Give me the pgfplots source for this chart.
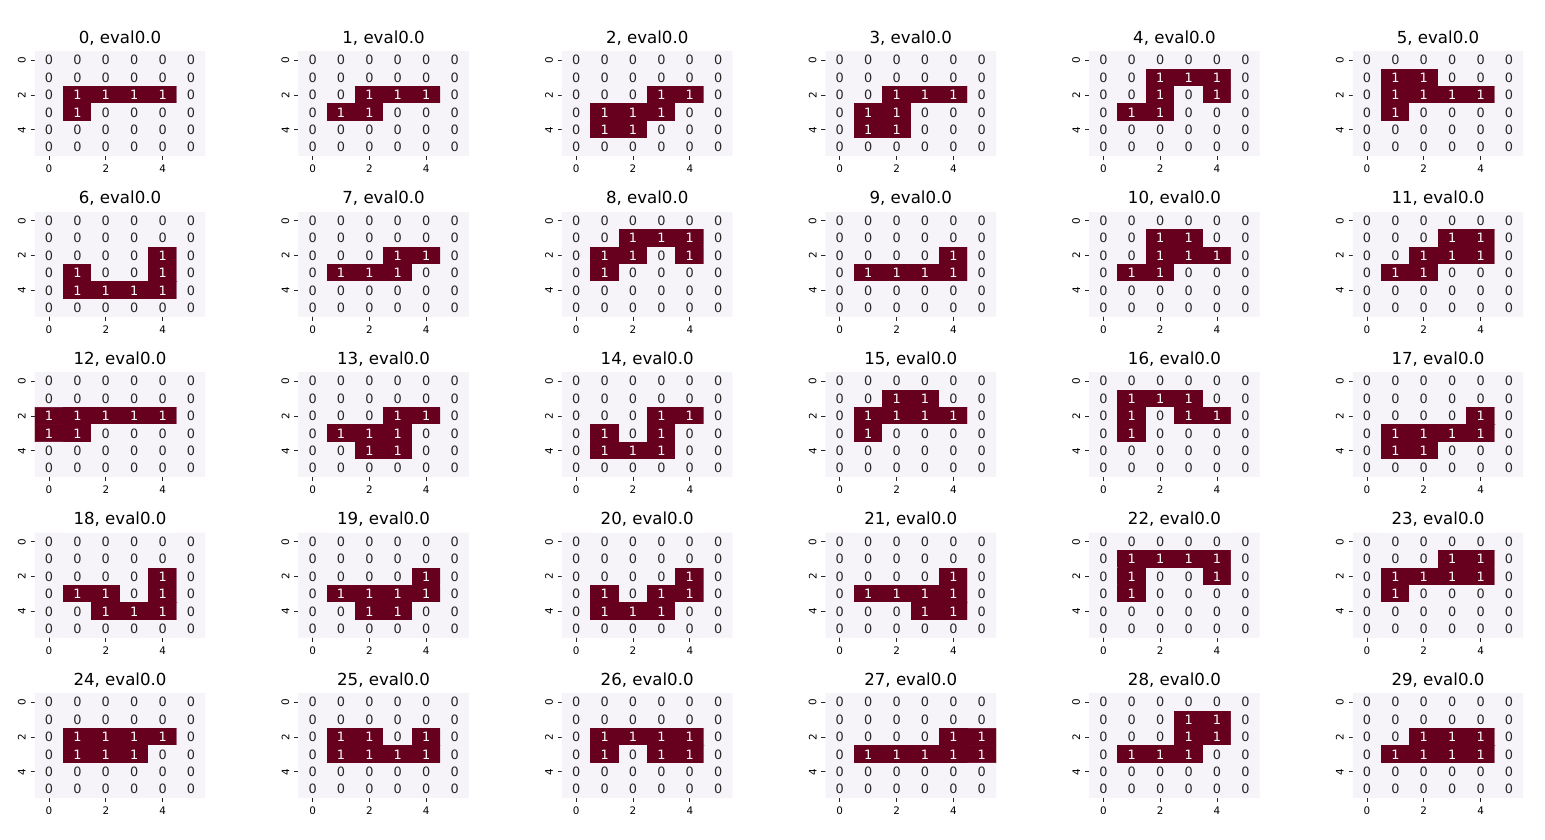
\documentclass[border=0pt]{standalone}
\usepackage{fontspec}
\setmainfont{DejaVu Sans}
\usepackage{pgfplots}
\pgfplotsset{compat=1.18}
\definecolor{c0}{HTML}{F7F4F9}
\definecolor{c1}{HTML}{67001F}
\definecolor{tgray}{HTML}{262626}
\pgfplotsset{hmstyle/.style={
  scale only axis, width=122.7bp, height=75.2bp, anchor=north west,
  xmin=-0.5, xmax=5.5, ymin=-0.5, ymax=5.5, y dir=reverse, enlargelimits=false,
  axis line style={draw=none},
  xtick={0,2,4}, ytick={0,2,4},
  xtick pos=left, ytick pos=left, tick align=outside,
  major tick length=3bp, tick style={draw=tgray, line width=0.6bp},
  /pgf/number format/assume math mode=true,
  tick label style={font=\fontsize{7.5}{8}\selectfont, text=black},
  yticklabel style={rotate=90, anchor=south},
  every axis title/.style={at={(0.5,1)}, anchor=base, yshift=6bp, inner sep=0pt, font=\fontsize{12}{14}\selectfont},
  colormap={purd}{color=(c0) color=(c1)},
  point meta min=0, point meta max=1,
  nodes near coords={\ifdim\pgfplotspointmetatransformed pt>500pt\color{white}\else\color{tgray}\fi\pgfmathprintnumber{\pgfplotspointmeta}},
  nodes near coords align=center,
  every node near coord/.append style={font=\fontsize{9.3}{10}\selectfont, inner sep=0pt, anchor=center},
}}
\newcommand{\hm}[4]{%
\begin{axis}[hmstyle, at={({(34.8+263.6*#1)*0.72bp},{-(51.5+160.5*#2)*0.72bp})}, title={#3}]
\addplot[matrix plot*, mesh/cols=6, point meta=explicit] coordinates {#4};
\end{axis}}
\begin{document}
\begin{tikzpicture}
\path[use as bounding box] (0,0) rectangle (1112.4bp,-604.8bp);
% grid 0
\hm{0}{0}{0, eval0.0}{
(0,0)[0] (1,0)[0] (2,0)[0] (3,0)[0] (4,0)[0] (5,0)[0]
(0,1)[0] (1,1)[0] (2,1)[0] (3,1)[0] (4,1)[0] (5,1)[0]
(0,2)[0] (1,2)[1] (2,2)[1] (3,2)[1] (4,2)[1] (5,2)[0]
(0,3)[0] (1,3)[1] (2,3)[0] (3,3)[0] (4,3)[0] (5,3)[0]
(0,4)[0] (1,4)[0] (2,4)[0] (3,4)[0] (4,4)[0] (5,4)[0]
(0,5)[0] (1,5)[0] (2,5)[0] (3,5)[0] (4,5)[0] (5,5)[0]}
% grid 1
\hm{1}{0}{1, eval0.0}{
(0,0)[0] (1,0)[0] (2,0)[0] (3,0)[0] (4,0)[0] (5,0)[0]
(0,1)[0] (1,1)[0] (2,1)[0] (3,1)[0] (4,1)[0] (5,1)[0]
(0,2)[0] (1,2)[0] (2,2)[1] (3,2)[1] (4,2)[1] (5,2)[0]
(0,3)[0] (1,3)[1] (2,3)[1] (3,3)[0] (4,3)[0] (5,3)[0]
(0,4)[0] (1,4)[0] (2,4)[0] (3,4)[0] (4,4)[0] (5,4)[0]
(0,5)[0] (1,5)[0] (2,5)[0] (3,5)[0] (4,5)[0] (5,5)[0]}
% grid 2
\hm{2}{0}{2, eval0.0}{
(0,0)[0] (1,0)[0] (2,0)[0] (3,0)[0] (4,0)[0] (5,0)[0]
(0,1)[0] (1,1)[0] (2,1)[0] (3,1)[0] (4,1)[0] (5,1)[0]
(0,2)[0] (1,2)[0] (2,2)[0] (3,2)[1] (4,2)[1] (5,2)[0]
(0,3)[0] (1,3)[1] (2,3)[1] (3,3)[1] (4,3)[0] (5,3)[0]
(0,4)[0] (1,4)[1] (2,4)[1] (3,4)[0] (4,4)[0] (5,4)[0]
(0,5)[0] (1,5)[0] (2,5)[0] (3,5)[0] (4,5)[0] (5,5)[0]}
% grid 3
\hm{3}{0}{3, eval0.0}{
(0,0)[0] (1,0)[0] (2,0)[0] (3,0)[0] (4,0)[0] (5,0)[0]
(0,1)[0] (1,1)[0] (2,1)[0] (3,1)[0] (4,1)[0] (5,1)[0]
(0,2)[0] (1,2)[0] (2,2)[1] (3,2)[1] (4,2)[1] (5,2)[0]
(0,3)[0] (1,3)[1] (2,3)[1] (3,3)[0] (4,3)[0] (5,3)[0]
(0,4)[0] (1,4)[1] (2,4)[1] (3,4)[0] (4,4)[0] (5,4)[0]
(0,5)[0] (1,5)[0] (2,5)[0] (3,5)[0] (4,5)[0] (5,5)[0]}
% grid 4
\hm{4}{0}{4, eval0.0}{
(0,0)[0] (1,0)[0] (2,0)[0] (3,0)[0] (4,0)[0] (5,0)[0]
(0,1)[0] (1,1)[0] (2,1)[1] (3,1)[1] (4,1)[1] (5,1)[0]
(0,2)[0] (1,2)[0] (2,2)[1] (3,2)[0] (4,2)[1] (5,2)[0]
(0,3)[0] (1,3)[1] (2,3)[1] (3,3)[0] (4,3)[0] (5,3)[0]
(0,4)[0] (1,4)[0] (2,4)[0] (3,4)[0] (4,4)[0] (5,4)[0]
(0,5)[0] (1,5)[0] (2,5)[0] (3,5)[0] (4,5)[0] (5,5)[0]}
% grid 5
\hm{5}{0}{5, eval0.0}{
(0,0)[0] (1,0)[0] (2,0)[0] (3,0)[0] (4,0)[0] (5,0)[0]
(0,1)[0] (1,1)[1] (2,1)[1] (3,1)[0] (4,1)[0] (5,1)[0]
(0,2)[0] (1,2)[1] (2,2)[1] (3,2)[1] (4,2)[1] (5,2)[0]
(0,3)[0] (1,3)[1] (2,3)[0] (3,3)[0] (4,3)[0] (5,3)[0]
(0,4)[0] (1,4)[0] (2,4)[0] (3,4)[0] (4,4)[0] (5,4)[0]
(0,5)[0] (1,5)[0] (2,5)[0] (3,5)[0] (4,5)[0] (5,5)[0]}
% grid 6
\hm{0}{1}{6, eval0.0}{
(0,0)[0] (1,0)[0] (2,0)[0] (3,0)[0] (4,0)[0] (5,0)[0]
(0,1)[0] (1,1)[0] (2,1)[0] (3,1)[0] (4,1)[0] (5,1)[0]
(0,2)[0] (1,2)[0] (2,2)[0] (3,2)[0] (4,2)[1] (5,2)[0]
(0,3)[0] (1,3)[1] (2,3)[0] (3,3)[0] (4,3)[1] (5,3)[0]
(0,4)[0] (1,4)[1] (2,4)[1] (3,4)[1] (4,4)[1] (5,4)[0]
(0,5)[0] (1,5)[0] (2,5)[0] (3,5)[0] (4,5)[0] (5,5)[0]}
% grid 7
\hm{1}{1}{7, eval0.0}{
(0,0)[0] (1,0)[0] (2,0)[0] (3,0)[0] (4,0)[0] (5,0)[0]
(0,1)[0] (1,1)[0] (2,1)[0] (3,1)[0] (4,1)[0] (5,1)[0]
(0,2)[0] (1,2)[0] (2,2)[0] (3,2)[1] (4,2)[1] (5,2)[0]
(0,3)[0] (1,3)[1] (2,3)[1] (3,3)[1] (4,3)[0] (5,3)[0]
(0,4)[0] (1,4)[0] (2,4)[0] (3,4)[0] (4,4)[0] (5,4)[0]
(0,5)[0] (1,5)[0] (2,5)[0] (3,5)[0] (4,5)[0] (5,5)[0]}
% grid 8
\hm{2}{1}{8, eval0.0}{
(0,0)[0] (1,0)[0] (2,0)[0] (3,0)[0] (4,0)[0] (5,0)[0]
(0,1)[0] (1,1)[0] (2,1)[1] (3,1)[1] (4,1)[1] (5,1)[0]
(0,2)[0] (1,2)[1] (2,2)[1] (3,2)[0] (4,2)[1] (5,2)[0]
(0,3)[0] (1,3)[1] (2,3)[0] (3,3)[0] (4,3)[0] (5,3)[0]
(0,4)[0] (1,4)[0] (2,4)[0] (3,4)[0] (4,4)[0] (5,4)[0]
(0,5)[0] (1,5)[0] (2,5)[0] (3,5)[0] (4,5)[0] (5,5)[0]}
% grid 9
\hm{3}{1}{9, eval0.0}{
(0,0)[0] (1,0)[0] (2,0)[0] (3,0)[0] (4,0)[0] (5,0)[0]
(0,1)[0] (1,1)[0] (2,1)[0] (3,1)[0] (4,1)[0] (5,1)[0]
(0,2)[0] (1,2)[0] (2,2)[0] (3,2)[0] (4,2)[1] (5,2)[0]
(0,3)[0] (1,3)[1] (2,3)[1] (3,3)[1] (4,3)[1] (5,3)[0]
(0,4)[0] (1,4)[0] (2,4)[0] (3,4)[0] (4,4)[0] (5,4)[0]
(0,5)[0] (1,5)[0] (2,5)[0] (3,5)[0] (4,5)[0] (5,5)[0]}
% grid 10
\hm{4}{1}{10, eval0.0}{
(0,0)[0] (1,0)[0] (2,0)[0] (3,0)[0] (4,0)[0] (5,0)[0]
(0,1)[0] (1,1)[0] (2,1)[1] (3,1)[1] (4,1)[0] (5,1)[0]
(0,2)[0] (1,2)[0] (2,2)[1] (3,2)[1] (4,2)[1] (5,2)[0]
(0,3)[0] (1,3)[1] (2,3)[1] (3,3)[0] (4,3)[0] (5,3)[0]
(0,4)[0] (1,4)[0] (2,4)[0] (3,4)[0] (4,4)[0] (5,4)[0]
(0,5)[0] (1,5)[0] (2,5)[0] (3,5)[0] (4,5)[0] (5,5)[0]}
% grid 11
\hm{5}{1}{11, eval0.0}{
(0,0)[0] (1,0)[0] (2,0)[0] (3,0)[0] (4,0)[0] (5,0)[0]
(0,1)[0] (1,1)[0] (2,1)[0] (3,1)[1] (4,1)[1] (5,1)[0]
(0,2)[0] (1,2)[0] (2,2)[1] (3,2)[1] (4,2)[1] (5,2)[0]
(0,3)[0] (1,3)[1] (2,3)[1] (3,3)[0] (4,3)[0] (5,3)[0]
(0,4)[0] (1,4)[0] (2,4)[0] (3,4)[0] (4,4)[0] (5,4)[0]
(0,5)[0] (1,5)[0] (2,5)[0] (3,5)[0] (4,5)[0] (5,5)[0]}
% grid 12
\hm{0}{2}{12, eval0.0}{
(0,0)[0] (1,0)[0] (2,0)[0] (3,0)[0] (4,0)[0] (5,0)[0]
(0,1)[0] (1,1)[0] (2,1)[0] (3,1)[0] (4,1)[0] (5,1)[0]
(0,2)[1] (1,2)[1] (2,2)[1] (3,2)[1] (4,2)[1] (5,2)[0]
(0,3)[1] (1,3)[1] (2,3)[0] (3,3)[0] (4,3)[0] (5,3)[0]
(0,4)[0] (1,4)[0] (2,4)[0] (3,4)[0] (4,4)[0] (5,4)[0]
(0,5)[0] (1,5)[0] (2,5)[0] (3,5)[0] (4,5)[0] (5,5)[0]}
% grid 13
\hm{1}{2}{13, eval0.0}{
(0,0)[0] (1,0)[0] (2,0)[0] (3,0)[0] (4,0)[0] (5,0)[0]
(0,1)[0] (1,1)[0] (2,1)[0] (3,1)[0] (4,1)[0] (5,1)[0]
(0,2)[0] (1,2)[0] (2,2)[0] (3,2)[1] (4,2)[1] (5,2)[0]
(0,3)[0] (1,3)[1] (2,3)[1] (3,3)[1] (4,3)[0] (5,3)[0]
(0,4)[0] (1,4)[0] (2,4)[1] (3,4)[1] (4,4)[0] (5,4)[0]
(0,5)[0] (1,5)[0] (2,5)[0] (3,5)[0] (4,5)[0] (5,5)[0]}
% grid 14
\hm{2}{2}{14, eval0.0}{
(0,0)[0] (1,0)[0] (2,0)[0] (3,0)[0] (4,0)[0] (5,0)[0]
(0,1)[0] (1,1)[0] (2,1)[0] (3,1)[0] (4,1)[0] (5,1)[0]
(0,2)[0] (1,2)[0] (2,2)[0] (3,2)[1] (4,2)[1] (5,2)[0]
(0,3)[0] (1,3)[1] (2,3)[0] (3,3)[1] (4,3)[0] (5,3)[0]
(0,4)[0] (1,4)[1] (2,4)[1] (3,4)[1] (4,4)[0] (5,4)[0]
(0,5)[0] (1,5)[0] (2,5)[0] (3,5)[0] (4,5)[0] (5,5)[0]}
% grid 15
\hm{3}{2}{15, eval0.0}{
(0,0)[0] (1,0)[0] (2,0)[0] (3,0)[0] (4,0)[0] (5,0)[0]
(0,1)[0] (1,1)[0] (2,1)[1] (3,1)[1] (4,1)[0] (5,1)[0]
(0,2)[0] (1,2)[1] (2,2)[1] (3,2)[1] (4,2)[1] (5,2)[0]
(0,3)[0] (1,3)[1] (2,3)[0] (3,3)[0] (4,3)[0] (5,3)[0]
(0,4)[0] (1,4)[0] (2,4)[0] (3,4)[0] (4,4)[0] (5,4)[0]
(0,5)[0] (1,5)[0] (2,5)[0] (3,5)[0] (4,5)[0] (5,5)[0]}
% grid 16
\hm{4}{2}{16, eval0.0}{
(0,0)[0] (1,0)[0] (2,0)[0] (3,0)[0] (4,0)[0] (5,0)[0]
(0,1)[0] (1,1)[1] (2,1)[1] (3,1)[1] (4,1)[0] (5,1)[0]
(0,2)[0] (1,2)[1] (2,2)[0] (3,2)[1] (4,2)[1] (5,2)[0]
(0,3)[0] (1,3)[1] (2,3)[0] (3,3)[0] (4,3)[0] (5,3)[0]
(0,4)[0] (1,4)[0] (2,4)[0] (3,4)[0] (4,4)[0] (5,4)[0]
(0,5)[0] (1,5)[0] (2,5)[0] (3,5)[0] (4,5)[0] (5,5)[0]}
% grid 17
\hm{5}{2}{17, eval0.0}{
(0,0)[0] (1,0)[0] (2,0)[0] (3,0)[0] (4,0)[0] (5,0)[0]
(0,1)[0] (1,1)[0] (2,1)[0] (3,1)[0] (4,1)[0] (5,1)[0]
(0,2)[0] (1,2)[0] (2,2)[0] (3,2)[0] (4,2)[1] (5,2)[0]
(0,3)[0] (1,3)[1] (2,3)[1] (3,3)[1] (4,3)[1] (5,3)[0]
(0,4)[0] (1,4)[1] (2,4)[1] (3,4)[0] (4,4)[0] (5,4)[0]
(0,5)[0] (1,5)[0] (2,5)[0] (3,5)[0] (4,5)[0] (5,5)[0]}
% grid 18
\hm{0}{3}{18, eval0.0}{
(0,0)[0] (1,0)[0] (2,0)[0] (3,0)[0] (4,0)[0] (5,0)[0]
(0,1)[0] (1,1)[0] (2,1)[0] (3,1)[0] (4,1)[0] (5,1)[0]
(0,2)[0] (1,2)[0] (2,2)[0] (3,2)[0] (4,2)[1] (5,2)[0]
(0,3)[0] (1,3)[1] (2,3)[1] (3,3)[0] (4,3)[1] (5,3)[0]
(0,4)[0] (1,4)[0] (2,4)[1] (3,4)[1] (4,4)[1] (5,4)[0]
(0,5)[0] (1,5)[0] (2,5)[0] (3,5)[0] (4,5)[0] (5,5)[0]}
% grid 19
\hm{1}{3}{19, eval0.0}{
(0,0)[0] (1,0)[0] (2,0)[0] (3,0)[0] (4,0)[0] (5,0)[0]
(0,1)[0] (1,1)[0] (2,1)[0] (3,1)[0] (4,1)[0] (5,1)[0]
(0,2)[0] (1,2)[0] (2,2)[0] (3,2)[0] (4,2)[1] (5,2)[0]
(0,3)[0] (1,3)[1] (2,3)[1] (3,3)[1] (4,3)[1] (5,3)[0]
(0,4)[0] (1,4)[0] (2,4)[1] (3,4)[1] (4,4)[0] (5,4)[0]
(0,5)[0] (1,5)[0] (2,5)[0] (3,5)[0] (4,5)[0] (5,5)[0]}
% grid 20
\hm{2}{3}{20, eval0.0}{
(0,0)[0] (1,0)[0] (2,0)[0] (3,0)[0] (4,0)[0] (5,0)[0]
(0,1)[0] (1,1)[0] (2,1)[0] (3,1)[0] (4,1)[0] (5,1)[0]
(0,2)[0] (1,2)[0] (2,2)[0] (3,2)[0] (4,2)[1] (5,2)[0]
(0,3)[0] (1,3)[1] (2,3)[0] (3,3)[1] (4,3)[1] (5,3)[0]
(0,4)[0] (1,4)[1] (2,4)[1] (3,4)[1] (4,4)[0] (5,4)[0]
(0,5)[0] (1,5)[0] (2,5)[0] (3,5)[0] (4,5)[0] (5,5)[0]}
% grid 21
\hm{3}{3}{21, eval0.0}{
(0,0)[0] (1,0)[0] (2,0)[0] (3,0)[0] (4,0)[0] (5,0)[0]
(0,1)[0] (1,1)[0] (2,1)[0] (3,1)[0] (4,1)[0] (5,1)[0]
(0,2)[0] (1,2)[0] (2,2)[0] (3,2)[0] (4,2)[1] (5,2)[0]
(0,3)[0] (1,3)[1] (2,3)[1] (3,3)[1] (4,3)[1] (5,3)[0]
(0,4)[0] (1,4)[0] (2,4)[0] (3,4)[1] (4,4)[1] (5,4)[0]
(0,5)[0] (1,5)[0] (2,5)[0] (3,5)[0] (4,5)[0] (5,5)[0]}
% grid 22
\hm{4}{3}{22, eval0.0}{
(0,0)[0] (1,0)[0] (2,0)[0] (3,0)[0] (4,0)[0] (5,0)[0]
(0,1)[0] (1,1)[1] (2,1)[1] (3,1)[1] (4,1)[1] (5,1)[0]
(0,2)[0] (1,2)[1] (2,2)[0] (3,2)[0] (4,2)[1] (5,2)[0]
(0,3)[0] (1,3)[1] (2,3)[0] (3,3)[0] (4,3)[0] (5,3)[0]
(0,4)[0] (1,4)[0] (2,4)[0] (3,4)[0] (4,4)[0] (5,4)[0]
(0,5)[0] (1,5)[0] (2,5)[0] (3,5)[0] (4,5)[0] (5,5)[0]}
% grid 23
\hm{5}{3}{23, eval0.0}{
(0,0)[0] (1,0)[0] (2,0)[0] (3,0)[0] (4,0)[0] (5,0)[0]
(0,1)[0] (1,1)[0] (2,1)[0] (3,1)[1] (4,1)[1] (5,1)[0]
(0,2)[0] (1,2)[1] (2,2)[1] (3,2)[1] (4,2)[1] (5,2)[0]
(0,3)[0] (1,3)[1] (2,3)[0] (3,3)[0] (4,3)[0] (5,3)[0]
(0,4)[0] (1,4)[0] (2,4)[0] (3,4)[0] (4,4)[0] (5,4)[0]
(0,5)[0] (1,5)[0] (2,5)[0] (3,5)[0] (4,5)[0] (5,5)[0]}
% grid 24
\hm{0}{4}{24, eval0.0}{
(0,0)[0] (1,0)[0] (2,0)[0] (3,0)[0] (4,0)[0] (5,0)[0]
(0,1)[0] (1,1)[0] (2,1)[0] (3,1)[0] (4,1)[0] (5,1)[0]
(0,2)[0] (1,2)[1] (2,2)[1] (3,2)[1] (4,2)[1] (5,2)[0]
(0,3)[0] (1,3)[1] (2,3)[1] (3,3)[1] (4,3)[0] (5,3)[0]
(0,4)[0] (1,4)[0] (2,4)[0] (3,4)[0] (4,4)[0] (5,4)[0]
(0,5)[0] (1,5)[0] (2,5)[0] (3,5)[0] (4,5)[0] (5,5)[0]}
% grid 25
\hm{1}{4}{25, eval0.0}{
(0,0)[0] (1,0)[0] (2,0)[0] (3,0)[0] (4,0)[0] (5,0)[0]
(0,1)[0] (1,1)[0] (2,1)[0] (3,1)[0] (4,1)[0] (5,1)[0]
(0,2)[0] (1,2)[1] (2,2)[1] (3,2)[0] (4,2)[1] (5,2)[0]
(0,3)[0] (1,3)[1] (2,3)[1] (3,3)[1] (4,3)[1] (5,3)[0]
(0,4)[0] (1,4)[0] (2,4)[0] (3,4)[0] (4,4)[0] (5,4)[0]
(0,5)[0] (1,5)[0] (2,5)[0] (3,5)[0] (4,5)[0] (5,5)[0]}
% grid 26
\hm{2}{4}{26, eval0.0}{
(0,0)[0] (1,0)[0] (2,0)[0] (3,0)[0] (4,0)[0] (5,0)[0]
(0,1)[0] (1,1)[0] (2,1)[0] (3,1)[0] (4,1)[0] (5,1)[0]
(0,2)[0] (1,2)[1] (2,2)[1] (3,2)[1] (4,2)[1] (5,2)[0]
(0,3)[0] (1,3)[1] (2,3)[0] (3,3)[1] (4,3)[1] (5,3)[0]
(0,4)[0] (1,4)[0] (2,4)[0] (3,4)[0] (4,4)[0] (5,4)[0]
(0,5)[0] (1,5)[0] (2,5)[0] (3,5)[0] (4,5)[0] (5,5)[0]}
% grid 27
\hm{3}{4}{27, eval0.0}{
(0,0)[0] (1,0)[0] (2,0)[0] (3,0)[0] (4,0)[0] (5,0)[0]
(0,1)[0] (1,1)[0] (2,1)[0] (3,1)[0] (4,1)[0] (5,1)[0]
(0,2)[0] (1,2)[0] (2,2)[0] (3,2)[0] (4,2)[1] (5,2)[1]
(0,3)[0] (1,3)[1] (2,3)[1] (3,3)[1] (4,3)[1] (5,3)[1]
(0,4)[0] (1,4)[0] (2,4)[0] (3,4)[0] (4,4)[0] (5,4)[0]
(0,5)[0] (1,5)[0] (2,5)[0] (3,5)[0] (4,5)[0] (5,5)[0]}
% grid 28
\hm{4}{4}{28, eval0.0}{
(0,0)[0] (1,0)[0] (2,0)[0] (3,0)[0] (4,0)[0] (5,0)[0]
(0,1)[0] (1,1)[0] (2,1)[0] (3,1)[1] (4,1)[1] (5,1)[0]
(0,2)[0] (1,2)[0] (2,2)[0] (3,2)[1] (4,2)[1] (5,2)[0]
(0,3)[0] (1,3)[1] (2,3)[1] (3,3)[1] (4,3)[0] (5,3)[0]
(0,4)[0] (1,4)[0] (2,4)[0] (3,4)[0] (4,4)[0] (5,4)[0]
(0,5)[0] (1,5)[0] (2,5)[0] (3,5)[0] (4,5)[0] (5,5)[0]}
% grid 29
\hm{5}{4}{29, eval0.0}{
(0,0)[0] (1,0)[0] (2,0)[0] (3,0)[0] (4,0)[0] (5,0)[0]
(0,1)[0] (1,1)[0] (2,1)[0] (3,1)[0] (4,1)[0] (5,1)[0]
(0,2)[0] (1,2)[0] (2,2)[1] (3,2)[1] (4,2)[1] (5,2)[0]
(0,3)[0] (1,3)[1] (2,3)[1] (3,3)[1] (4,3)[1] (5,3)[0]
(0,4)[0] (1,4)[0] (2,4)[0] (3,4)[0] (4,4)[0] (5,4)[0]
(0,5)[0] (1,5)[0] (2,5)[0] (3,5)[0] (4,5)[0] (5,5)[0]}
\end{tikzpicture}
\end{document}
